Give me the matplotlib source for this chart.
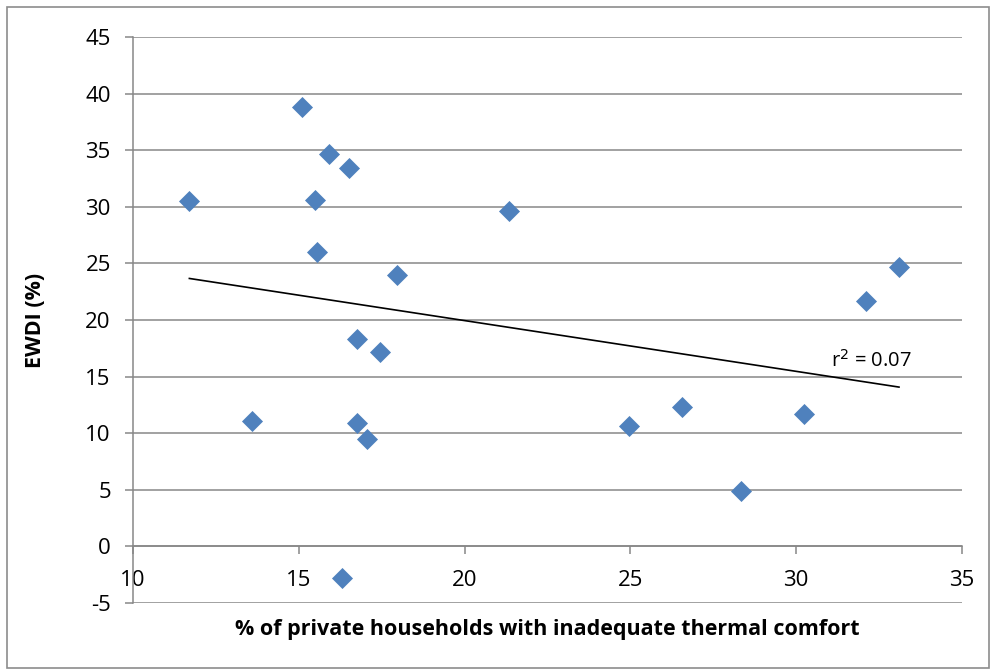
import numpy as np
import matplotlib
matplotlib.use('Agg')
import matplotlib.pyplot as plt
from matplotlib.patches import Rectangle

# % of private households with inadequate thermal comfort
thermal = [11.7, 13.6, 15.1, 15.5, 15.9, 15.55, 16.5, 16.3, 16.75, 16.75,
           17.05, 17.45, 17.95, 21.35, 24.95, 26.55, 28.35, 30.25, 32.1, 33.1]
# EWDI (%)
ewdi = [30.5, 11.1, 38.8, 30.6, 34.7, 26.0, 33.4, -2.8, 18.3, 10.9,
        9.5, 17.2, 24.0, 29.6, 10.6, 12.3, 4.9, 11.7, 21.7, 24.7]

x_ticks = [10, 15, 20, 25, 30, 35]
y_ticks = [-5, 0, 5, 10, 15, 20, 25, 30, 35, 40, 45]

plt.rcParams['font.family'] = ['Open Sans', 'DejaVu Sans']
plt.rcParams['axes.unicode_minus'] = False
grid_col = '#878787'

fig = plt.figure(figsize=(9.94, 6.69), dpi=100)
ax = fig.add_axes([0.1338, 0.0987, 0.834, 0.846])

ax.set_xlim(10, 35)
ax.set_ylim(-5, 45)
ax.set_xticks(x_ticks)
ax.set_yticks(y_ticks)

ax.yaxis.grid(True, color=grid_col, linewidth=1.1)
ax.set_axisbelow(True)

for s in ['top', 'right']:
    ax.spines[s].set_visible(False)
ax.spines['bottom'].set_position(('data', 0))
ax.spines['bottom'].set_color(grid_col)
ax.spines['left'].set_color(grid_col)
ax.spines['bottom'].set_linewidth(1.1)
ax.spines['left'].set_linewidth(1.1)
ax.tick_params(axis='both', colors=grid_col, labelcolor='black',
               labelsize=16, length=6, width=1.1, direction='out')
ax.tick_params(axis='x', pad=11)
ax.tick_params(axis='y', pad=10)

ax.scatter(thermal, ewdi, marker='D', s=115, color='#4F81BD', zorder=3,
           linewidths=0)

# linear trend line
slope, icpt = np.polyfit(thermal, ewdi, 1)
xs = np.array([min(thermal), max(thermal)])
ax.plot(xs, slope * xs + icpt, color='black', linewidth=1.2, zorder=2)
r2 = np.corrcoef(thermal, ewdi)[0, 1] ** 2
ax.text(31.05, 16.4, 'r$^2$ = %.2f' % r2, fontsize=14.5, ha='left',
        va='center')

ax.set_ylabel('EWDI (%)', fontsize=15.5, fontweight='bold')
ax.yaxis.set_label_coords(-0.105, 0.5)
ax.set_xlabel('% of private households with inadequate thermal comfort',
              fontsize=15.5, fontweight='bold')
ax.xaxis.set_label_coords(0.5, -0.028)

fig.patches.append(Rectangle((7 / 994, 0.002), 0.995 - 7 / 994, 0.9895 - 0.002,
                             transform=fig.transFigure, fill=False,
                             edgecolor='#8c8c8c', linewidth=1.2))

fig.savefig('out.png', dpi=100)
